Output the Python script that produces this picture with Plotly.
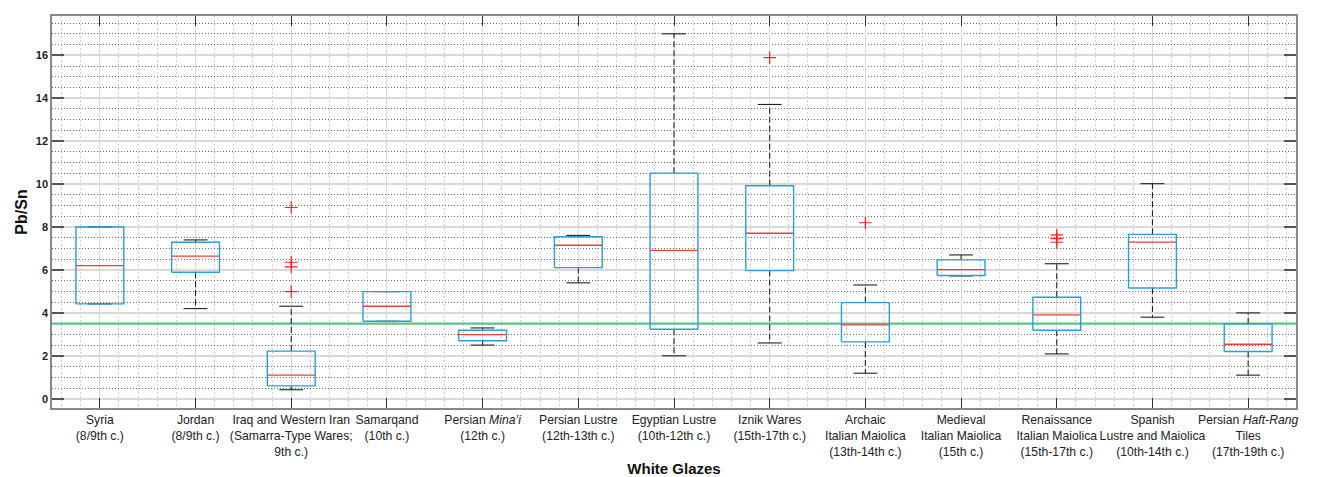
import plotly.graph_objects as go

labels = [
    "Syria<br>(8/9th c.)",
    "Jordan<br>(8/9th c.)",
    "Iraq and Western Iran<br>(Samarra-Type Wares;<br>9th c.)",
    "Samarqand<br>(10th c.)",
    "Persian <i>Mina’i</i><br>(12th c.)",
    "Persian Lustre<br>(12th-13th c.)",
    "Egyptian Lustre<br>(10th-12th c.)",
    "Iznik Wares<br>(15th-17th c.)",
    "Archaic<br>Italian Maiolica<br>(13th-14th c.)",
    "Medieval<br>Italian Maiolica<br>(15th c.)",
    "Renaissance<br>Italian Maiolica<br>(15th-17th c.)",
    "Spanish<br>Lustre and Maiolica<br>(10th-14th c.)",
    "Persian <i>Haft-Rang</i><br>Tiles<br>(17th-19th c.)",
]
q1 = [4.42, 5.89, 0.60, 3.61, 2.70, 6.11, 3.24, 5.97, 2.65, 5.74, 3.19, 5.16, 2.20]
median = [6.20, 6.64, 1.10, 4.31, 2.99, 7.15, 6.91, 7.71, 3.44, 6.02, 3.91, 7.30, 2.54]
q3 = [8.00, 7.29, 2.22, 4.99, 3.19, 7.55, 10.51, 9.92, 4.48, 6.47, 4.73, 7.66, 3.49]
lower = [4.42, 4.20, 0.42, 3.61, 2.50, 5.40, 2.00, 2.60, 1.19, 5.72, 2.09, 3.80, 1.10]
upper = [8.00, 7.40, 4.31, 4.99, 3.30, 7.61, 17.00, 13.71, 5.30, 6.70, 6.29, 10.02, 4.00]
outlier_group = [3, 3, 3, 3, 8, 9, 11, 11, 11]
outlier_value = [8.91, 6.36, 6.14, 4.99, 15.89, 8.20, 7.63, 7.46, 7.29]
reference_level = 3.5

BOX_HALF = 0.25
CAP_HALF = 0.125

xs = list(range(1, len(labels) + 1))

cap_x, cap_y, wh_x, wh_y = [], [], [], []
box_x, box_y, med_x, med_y = [], [], [], []
for x, a, m, b, lo, hi in zip(xs, q1, median, q3, lower, upper):
    for v in (lo, hi):
        cap_x += [x - CAP_HALF, x + CAP_HALF, None]
        cap_y += [v, v, None]
    wh_x += [x, x, None, x, x, None]
    wh_y += [b, hi, None, a, lo, None]
    box_x += [x - BOX_HALF, x + BOX_HALF, x + BOX_HALF, x - BOX_HALF, x - BOX_HALF, None]
    box_y += [a, a, b, b, a, None]
    med_x += [x - BOX_HALF, x + BOX_HALF, None]
    med_y += [m, m, None]

fig = go.Figure()
fig.add_trace(go.Scatter(x=[0.5, 13.5], y=[reference_level, reference_level], mode="lines",
                         line=dict(color="#5cc28c", width=2.2), hoverinfo="skip"))
fig.add_trace(go.Scatter(x=wh_x, y=wh_y, mode="lines",
                         line=dict(color="#222222", width=1.1, dash="6px,3px")))
fig.add_trace(go.Scatter(x=cap_x, y=cap_y, mode="lines",
                         line=dict(color="#222222", width=1.1)))
fig.add_trace(go.Scatter(x=box_x, y=box_y, mode="lines",
                         line=dict(color="#2a9fd6", width=1.4)))
fig.add_trace(go.Scatter(x=med_x, y=med_y, mode="lines",
                         line=dict(color="#e8423a", width=1.3)))
fig.add_trace(go.Scatter(x=[xs[g - 1] for g in outlier_group], y=outlier_value, mode="markers",
                         marker=dict(symbol="cross-thin", size=9,
                                     line=dict(color="#ff2020", width=1.2))))

fig.update_layout(
    width=1325, height=477,
    margin=dict(l=52, r=29, t=16, b=69),
    paper_bgcolor="white", plot_bgcolor="white",
    showlegend=False,
    font=dict(family="Liberation Sans, Arial, sans-serif", color="#222222"),
)
fig.update_xaxes(
    range=[0.5, 13.5], automargin=False,
    tickmode="array", tickvals=xs, ticktext=labels, tickangle=0,
    tickfont=dict(size=12.2, color="#222222"),
    ticks="inside", ticklen=10, tickwidth=1.2, tickcolor="#333333",
    showline=True, linecolor="#888888", linewidth=1.5, mirror="ticks",
    showgrid=True, gridcolor="#d9d9d9", gridwidth=1.3,
    zeroline=False,
    minor=dict(tickmode="linear", tick0=0, dtick=0.2, showgrid=True,
               gridcolor="#d0d0d0", griddash="2px,2px", gridwidth=1, ticks=""),
    title=dict(text="<b>White Glazes</b>", font=dict(size=15, color="#111111"), standoff=8),
)
fig.update_yaxes(
    range=[-0.43, 17.83], automargin=False,
    tickmode="linear", tick0=0, dtick=2,
    tickfont=dict(size=11, color="#222222", weight="bold"),
    ticks="inside", ticklen=12, tickwidth=1.5, tickcolor="#555555",
    showline=True, linecolor="#888888", linewidth=1.5, mirror="ticks",
    showgrid=True, gridcolor="#d9d9d9", gridwidth=1.5,
    zeroline=False,
    minor=dict(tickmode="linear", tick0=0, dtick=0.5, showgrid=True,
               gridcolor="#6a6a6a", griddash="1px,2px", gridwidth=1, ticks=""),
    title=dict(text="<b>Pb/Sn</b>", font=dict(size=16, color="#111111"), standoff=4),
)

fig.write_html("out.html", config={"displayModeBar": False},
               post_script="document.body.style.margin='0px';")
